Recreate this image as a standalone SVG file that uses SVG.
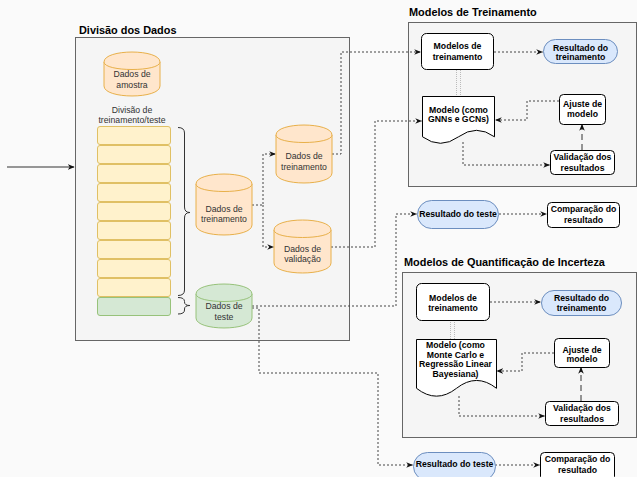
<svg xmlns="http://www.w3.org/2000/svg" width="637" height="477" viewBox="0 0 637 477">
<defs>
<style>
.bg{fill:#fafafa}
.cont{fill:#f5f5f5;stroke:#666;stroke-width:1}
.title{font-family:"Liberation Sans",Arial,Helvetica,sans-serif;font-size:10.9px;font-weight:bold;fill:#000}
.lbl{font-family:"Liberation Sans",Arial,Helvetica,sans-serif;font-size:8.7px;fill:#333;text-anchor:middle}
.blbl{font-family:"Liberation Sans",Arial,Helvetica,sans-serif;font-size:8.7px;font-weight:bold;fill:#000;text-anchor:middle}
.cyl{fill:#ffe6cc;stroke:#e8b04a;stroke-width:1}
.cylg{fill:#d5e8d4;stroke:#97c27a;stroke-width:1}
.ystk{fill:#fff2cc;stroke:#e0c064;stroke-width:1}
.gstk{fill:#d5e8d4;stroke:#97c27a;stroke-width:1}
.box{fill:#fff;stroke:#000;stroke-width:1}
.pill{fill:#dae8fc;stroke:#6c8ebf;stroke-width:1}
.dot{fill:none;stroke:#444;stroke-width:1;stroke-dasharray:2 2}
.dash{fill:none;stroke:#333;stroke-width:1;stroke-dasharray:6 4}
.solid{fill:none;stroke:#333;stroke-width:1}
.link{fill:none;stroke:#bbb;stroke-width:1;stroke-dasharray:1 1}
.brace{fill:none;stroke:#333;stroke-width:1}
</style>
<marker id="ah" viewBox="0 0 10 10" refX="9" refY="5" markerWidth="7" markerHeight="7" orient="auto" markerUnits="userSpaceOnUse">
<path d="M0,1 L10,5 L0,9 L3,5 Z" fill="#111"/>
</marker>
</defs>
<rect class="bg" x="0" y="0" width="637" height="477"/>

<g id="divisao-container">
<rect class="cont" x="75.5" y="37.5" width="274" height="303"/>
<text class="title" x="79" y="33.5">Divisão dos Dados</text>
</g>
<g id="treinamento-container">
<rect class="cont" x="408.5" y="22.5" width="228" height="164"/>
<text class="title" x="409" y="15.7">Modelos de Treinamento</text>
</g>
<g id="incerteza-container">
<rect class="cont" x="402.5" y="272.5" width="234" height="165"/>
<text class="title" x="404" y="266">Modelos de Quantificação de Incerteza</text>
</g>

<g id="connectors">
<path class="solid" d="M7,167 H74" marker-end="url(#ah)"/>
<path class="dot" d="M252,205 H263 V154 H275.5" marker-end="url(#ah)"/>
<path class="dot" d="M263,205 V247 H273.5" marker-end="url(#ah)"/>
<path class="dot" d="M332,154 H341 V52 H420.5" marker-end="url(#ah)"/>
<path class="dot" d="M331,247 H375 V121 H421.5" marker-end="url(#ah)"/>
<path class="dot" d="M252,306 H396 V214 H416.5" marker-end="url(#ah)"/>
<path class="dot" d="M252,308 H259 V373 H378 V465 H412.5" marker-end="url(#ah)"/>
<path class="dot" d="M494,52 H542.5" marker-end="url(#ah)"/>
<path class="link" d="M456.5,70 V96 M460.5,70 V96"/>
<path class="dot" d="M559,101 H527 V120 H495.5" marker-end="url(#ah)"/>
<path class="dash" d="M582,150 V124.5" marker-end="url(#ah)"/>
<path class="dot" d="M463,142 V165 H549.5" marker-end="url(#ah)"/>
<path class="dot" d="M499,214 H546.5" marker-end="url(#ah)"/>
<path class="dot" d="M490,302 H540.5" marker-end="url(#ah)"/>
<path class="link" d="M450.5,320 V339 M454.5,320 V339"/>
<path class="dot" d="M554,353 H522 V371 H497" marker-end="url(#ah)"/>
<path class="dash" d="M581,401 V367.5" marker-end="url(#ah)"/>
<path class="dot" d="M459,396 V416 H544.5" marker-end="url(#ah)"/>
<path class="dot" d="M495,465 H539.5" marker-end="url(#ah)"/>
</g>

<g id="dados-amostra">
<path class="cyl" d="M104,62 C104,48.7 160,48.7 160,62 L160,86 C160,99.3 104,99.3 104,86 Z"/>
<path class="cyl" d="M104,62 C104,72 160,72 160,62" fill="none"/>
<text class="lbl" x="132" y="77.3">Dados de</text>
<text class="lbl" x="132" y="87.8">amostra</text>
</g>

<g id="divisao-label">
<text class="lbl" x="132" y="112.9">Divisão de</text>
<text class="lbl" x="132" y="123">treinamento/teste</text>
</g>

<g id="pilha">
<rect class="ystk" x="97.5" y="126.5" width="73" height="18" rx="2.5"/>
<rect class="ystk" x="97.5" y="145.5" width="73" height="18" rx="2.5"/>
<rect class="ystk" x="97.5" y="164.5" width="73" height="18" rx="2.5"/>
<rect class="ystk" x="97.5" y="183.5" width="73" height="18" rx="2.5"/>
<rect class="ystk" x="97.5" y="202.5" width="73" height="18" rx="2.5"/>
<rect class="ystk" x="97.5" y="221.5" width="73" height="18" rx="2.5"/>
<rect class="ystk" x="97.5" y="240.5" width="73" height="18" rx="2.5"/>
<rect class="ystk" x="97.5" y="259.5" width="73" height="18" rx="2.5"/>
<rect class="ystk" x="97.5" y="278.5" width="73" height="18" rx="2.5"/>
<rect class="gstk" x="97.5" y="297.5" width="73" height="18" rx="2.5"/>
</g>

<g id="chave-treino">
<path class="brace" d="M178,127.5 Q184.5,127.5 184.5,133 L184.5,207 Q184.5,212.5 190,212.5 Q184.5,212.5 184.5,218 L184.5,290 Q184.5,295.5 178,295.5"/>
</g>
<g id="chave-teste">
<path class="brace" d="M178,297.5 Q184.5,297.5 184.5,301.5 L184.5,302 Q184.5,305.5 190,305.5 Q184.5,305.5 184.5,309 L184.5,310 Q184.5,314 178,314"/>
</g>

<g id="dados-treinamento">
<path class="cyl" d="M196,184 C196,170.7 252,170.7 252,184 L252,225 C252,238.3 196,238.3 196,225 Z"/>
<path class="cyl" d="M196,184 C196,194 252,194 252,184" fill="none"/>
<text class="lbl" x="224" y="211.5">Dados de</text>
<text class="lbl" x="224" y="222">treinamento</text>
</g>

<g id="dados-treinamento-2">
<path class="cyl" d="M276,135 C276,121.7 332,121.7 332,135 L332,173 C332,186.3 276,186.3 276,173 Z"/>
<path class="cyl" d="M276,135 C276,145 332,145 332,135" fill="none"/>
<text class="lbl" x="304" y="159.2">Dados de</text>
<text class="lbl" x="304" y="169.8">treinamento</text>
</g>

<g id="dados-validacao">
<path class="cyl" d="M274,230 C274,216.7 331,216.7 331,230 L331,263 C331,276.3 274,276.3 274,263 Z"/>
<path class="cyl" d="M274,230 C274,240 331,240 331,230" fill="none"/>
<text class="lbl" x="302.5" y="251.9">Dados de</text>
<text class="lbl" x="302.5" y="262.2">validação</text>
</g>

<g id="dados-teste">
<path class="cylg" d="M196,294 C196,280.7 252,280.7 252,294 L252,318 C252,331.3 196,331.3 196,318 Z"/>
<path class="cylg" d="M196,294 C196,304 252,304 252,294" fill="none"/>
<text class="lbl" x="224" y="309.2">Dados de</text>
<text class="lbl" x="224" y="320">teste</text>
</g>

<g id="modelos-treinamento-1">
<rect class="box" x="421.5" y="33.5" width="72" height="36" rx="5"/>
<text class="blbl" x="457.5" y="48.9">Modelos de</text>
<text class="blbl" x="457.5" y="59.9">treinamento</text>
</g>
<g id="resultado-treinamento-1">
<rect class="pill" x="543.5" y="39.5" width="74" height="24" rx="12"/>
<text class="blbl" x="580.5" y="50.9">Resultado do</text>
<text class="blbl" x="580.5" y="59.9">treinamento</text>
</g>
<g id="modelo-gnn">
<path class="box" d="M422.5,96.5 H494.5 V136.8 Q476.5,123.8 458.5,136.8 Q440.5,149.8 422.5,136.8 Z"/>
<text class="blbl" x="458.5" y="112.5">Modelo (como</text>
<text class="blbl" x="458.5" y="121.7">GNNs e GCNs)</text>
</g>
<g id="ajuste-1">
<rect class="box" x="559.5" y="94.5" width="46" height="30" rx="4"/>
<text class="blbl" x="582.5" y="107.2">Ajuste de</text>
<text class="blbl" x="582.5" y="116.5">modelo</text>
</g>
<g id="validacao-1">
<rect class="box" x="550.5" y="150.5" width="64" height="24" rx="4"/>
<text class="blbl" x="582.5" y="159.9">Validação dos</text>
<text class="blbl" x="582.5" y="170.9">resultados</text>
</g>
<g id="resultado-teste-1">
<rect class="pill" x="417.5" y="200.5" width="81" height="28" rx="14"/>
<text class="blbl" x="458" y="216.5">Resultado do teste</text>
</g>
<g id="comparacao-1">
<rect class="box" x="547.5" y="202.5" width="72" height="25" rx="4"/>
<text class="blbl" x="583.5" y="212.2">Comparação do</text>
<text class="blbl" x="583.5" y="223.2">resultado</text>
</g>

<g id="modelos-treinamento-2">
<rect class="box" x="416.5" y="283.5" width="73" height="37" rx="5"/>
<text class="blbl" x="453" y="300.5">Modelos de</text>
<text class="blbl" x="453" y="310.9">treinamento</text>
</g>
<g id="resultado-treinamento-2">
<rect class="pill" x="541.5" y="290.5" width="80" height="25" rx="12.5"/>
<text class="blbl" x="581.5" y="300.5">Resultado do</text>
<text class="blbl" x="581.5" y="310.5">treinamento</text>
</g>
<g id="modelo-mc">
<path class="box" d="M416.5,339.5 H496.5 V388.3 Q476.5,372.6 456.5,388.3 Q436.5,404 416.5,388.3 Z"/>
<text class="blbl" x="455.5" y="348.2">Modelo (como</text>
<text class="blbl" x="455.5" y="357.5">Monte Carlo e</text>
<text class="blbl" x="455.5" y="366.5">Regressão Linear</text>
<text class="blbl" x="455.5" y="376.5">Bayesiana)</text>
</g>
<g id="ajuste-2">
<rect class="box" x="554.5" y="338.5" width="55" height="29" rx="4"/>
<text class="blbl" x="582" y="352.5">Ajuste de</text>
<text class="blbl" x="582" y="361.5">modelo</text>
</g>
<g id="validacao-2">
<rect class="box" x="545.5" y="401.5" width="73" height="24" rx="4"/>
<text class="blbl" x="582" y="410.9">Validação dos</text>
<text class="blbl" x="582" y="421.5">resultados</text>
</g>
<g id="resultado-teste-2">
<rect class="pill" x="413.5" y="452.5" width="82" height="28" rx="14"/>
<text class="blbl" x="454.5" y="467.2">Resultado do teste</text>
</g>
<g id="comparacao-2">
<rect class="box" x="540.5" y="452.5" width="74" height="28" rx="4"/>
<text class="blbl" x="577.5" y="462.2">Comparação do</text>
<text class="blbl" x="577.5" y="472.5">resultado</text>
</g>
</svg>
